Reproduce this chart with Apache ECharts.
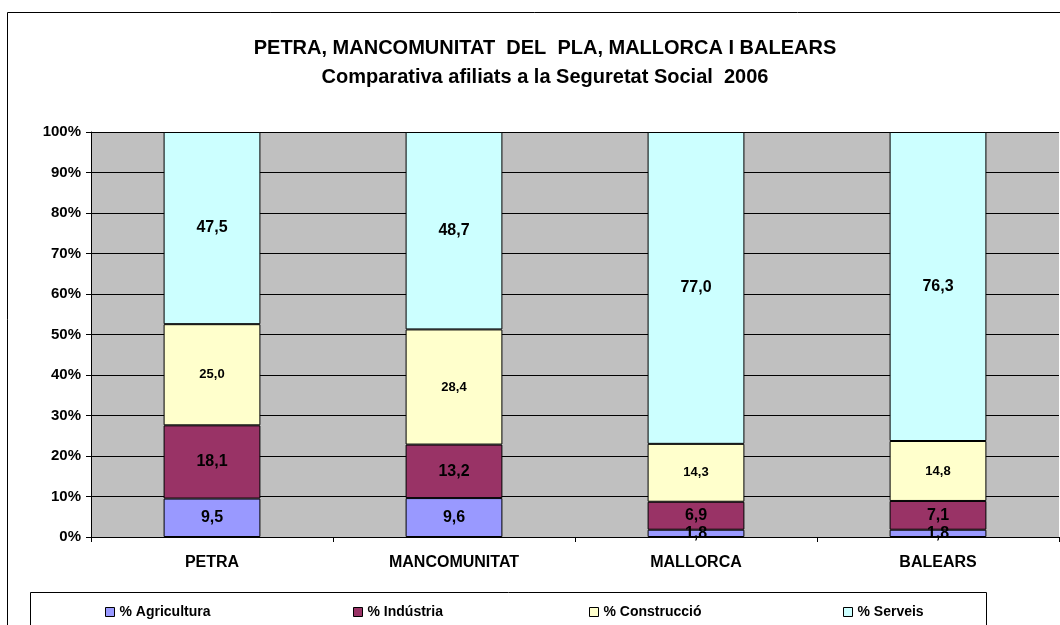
<!DOCTYPE html>
<html>
<head>
<meta charset="utf-8">
<script src="https://cdn.jsdelivr.net/npm/echarts@6/dist/echarts.min.js"></script>
<style>html,body{margin:0;padding:0;background:#fff}#c{width:1060px;height:625px}</style>
</head>
<body>
<div id="c"></div>
<script>
var categories = ['PETRA', 'MANCOMUNITAT', 'MALLORCA', 'BALEARS'];
var agricultura = [9.5, 9.6, 1.8, 1.8];
var industria = [18.1, 13.2, 6.9, 7.1];
var construccio = [25.0, 28.4, 14.3, 14.8];
var serveis = [47.5, 48.7, 77.0, 76.3];
var seriesNames = ['% Agricultura', '% Indústria', '% Construcció', '% Serveis'];
var yTicks = [0, 10, 20, 30, 40, 50, 60, 70, 80, 90, 100];
var titleLines = ['PETRA, MANCOMUNITAT  DEL  PLA, MALLORCA I BALEARS', 'Comparativa afiliats a la Seguretat Social  2006'];

var raw = [agricultura, industria, construccio, serveis];
var colors = ['#9999FF', '#993366', '#FFFFCC', '#CCFFFF'];
var labelSizes = [16, 16, 13, 16];
var legendLefts = [100, 348, 584, 838];
var totals = categories.map(function (c, i) {
  return raw.reduce(function (s, arr) { return s + arr[i]; }, 0);
});
var font = '"Liberation Sans", Arial, sans-serif';

var series = raw.map(function (arr, k) {
  return {
    name: seriesNames[k],
    type: 'bar',
    stack: 'total',
    barWidth: '40%',
    data: arr.map(function (v, i) { return v / totals[i] * 100; }),
    itemStyle: { color: colors[k], borderColor: '#000', borderWidth: 1 },
    label: {
      show: true,
      position: 'inside',
      color: '#000',
      fontFamily: font,
      fontWeight: 'bold',
      fontSize: labelSizes[k],
      formatter: function (p) { return arr[p.dataIndex].toFixed(1).replace('.', ','); }
    },
    emphasis: { disabled: true }
  };
});

var legends = seriesNames.map(function (n, k) {
  return {
    left: legendLefts[k],
    top: 600,
    itemWidth: 9,
    itemHeight: 9,
    icon: 'rect',
    data: [n],
    itemStyle: { borderColor: '#000', borderWidth: 1 },
    textStyle: { fontFamily: font, fontWeight: 'bold', fontSize: 14, color: '#000' },
    selectedMode: false
  };
});

var chart = echarts.init(document.getElementById('c'));
chart.setOption({
  animation: false,
  backgroundColor: '#fff',
  title: {
    text: titleLines.join('\n'),
    left: 540,
    textAlign: 'center',
    top: 29,
    textStyle: { fontFamily: font, fontWeight: 'bold', fontSize: 20, color: '#000', lineHeight: 29 }
  },
  graphic: [
    { type: 'rect', shape: { x: 7.5, y: 12.5, width: 1070, height: 630 }, style: { fill: null, stroke: '#000', lineWidth: 1 }, z: -1 },
    { type: 'rect', shape: { x: 30.5, y: 592.5, width: 956, height: 50 }, style: { fill: null, stroke: '#000', lineWidth: 1 }, z: -1 }
  ],
  legend: legends,
  grid: {
    left: 91, right: 1, top: 132, bottom: 88,
    show: true, backgroundColor: '#C0C0C0', borderWidth: 0
  },
  xAxis: {
    type: 'category',
    data: categories,
    axisLine: { show: true, lineStyle: { color: '#000', width: 1 } },
    axisTick: { show: true, length: 5, lineStyle: { color: '#000' } },
    axisLabel: { margin: 18, fontFamily: font, fontWeight: 'bold', fontSize: 16, color: '#000' }
  },
  yAxis: {
    type: 'value',
    min: yTicks[0],
    max: yTicks[yTicks.length - 1],
    interval: yTicks[1] - yTicks[0],
    axisLine: { show: true, lineStyle: { color: '#000', width: 1 } },
    axisTick: { show: true, length: 5, lineStyle: { color: '#000' } },
    splitLine: { show: true, lineStyle: { color: '#000', width: 1 } },
    axisLabel: { margin: 10, fontFamily: font, fontWeight: 'bold', fontSize: 15, color: '#000', formatter: '{value}%' }
  },
  series: series
});
</script>
</body>
</html>
